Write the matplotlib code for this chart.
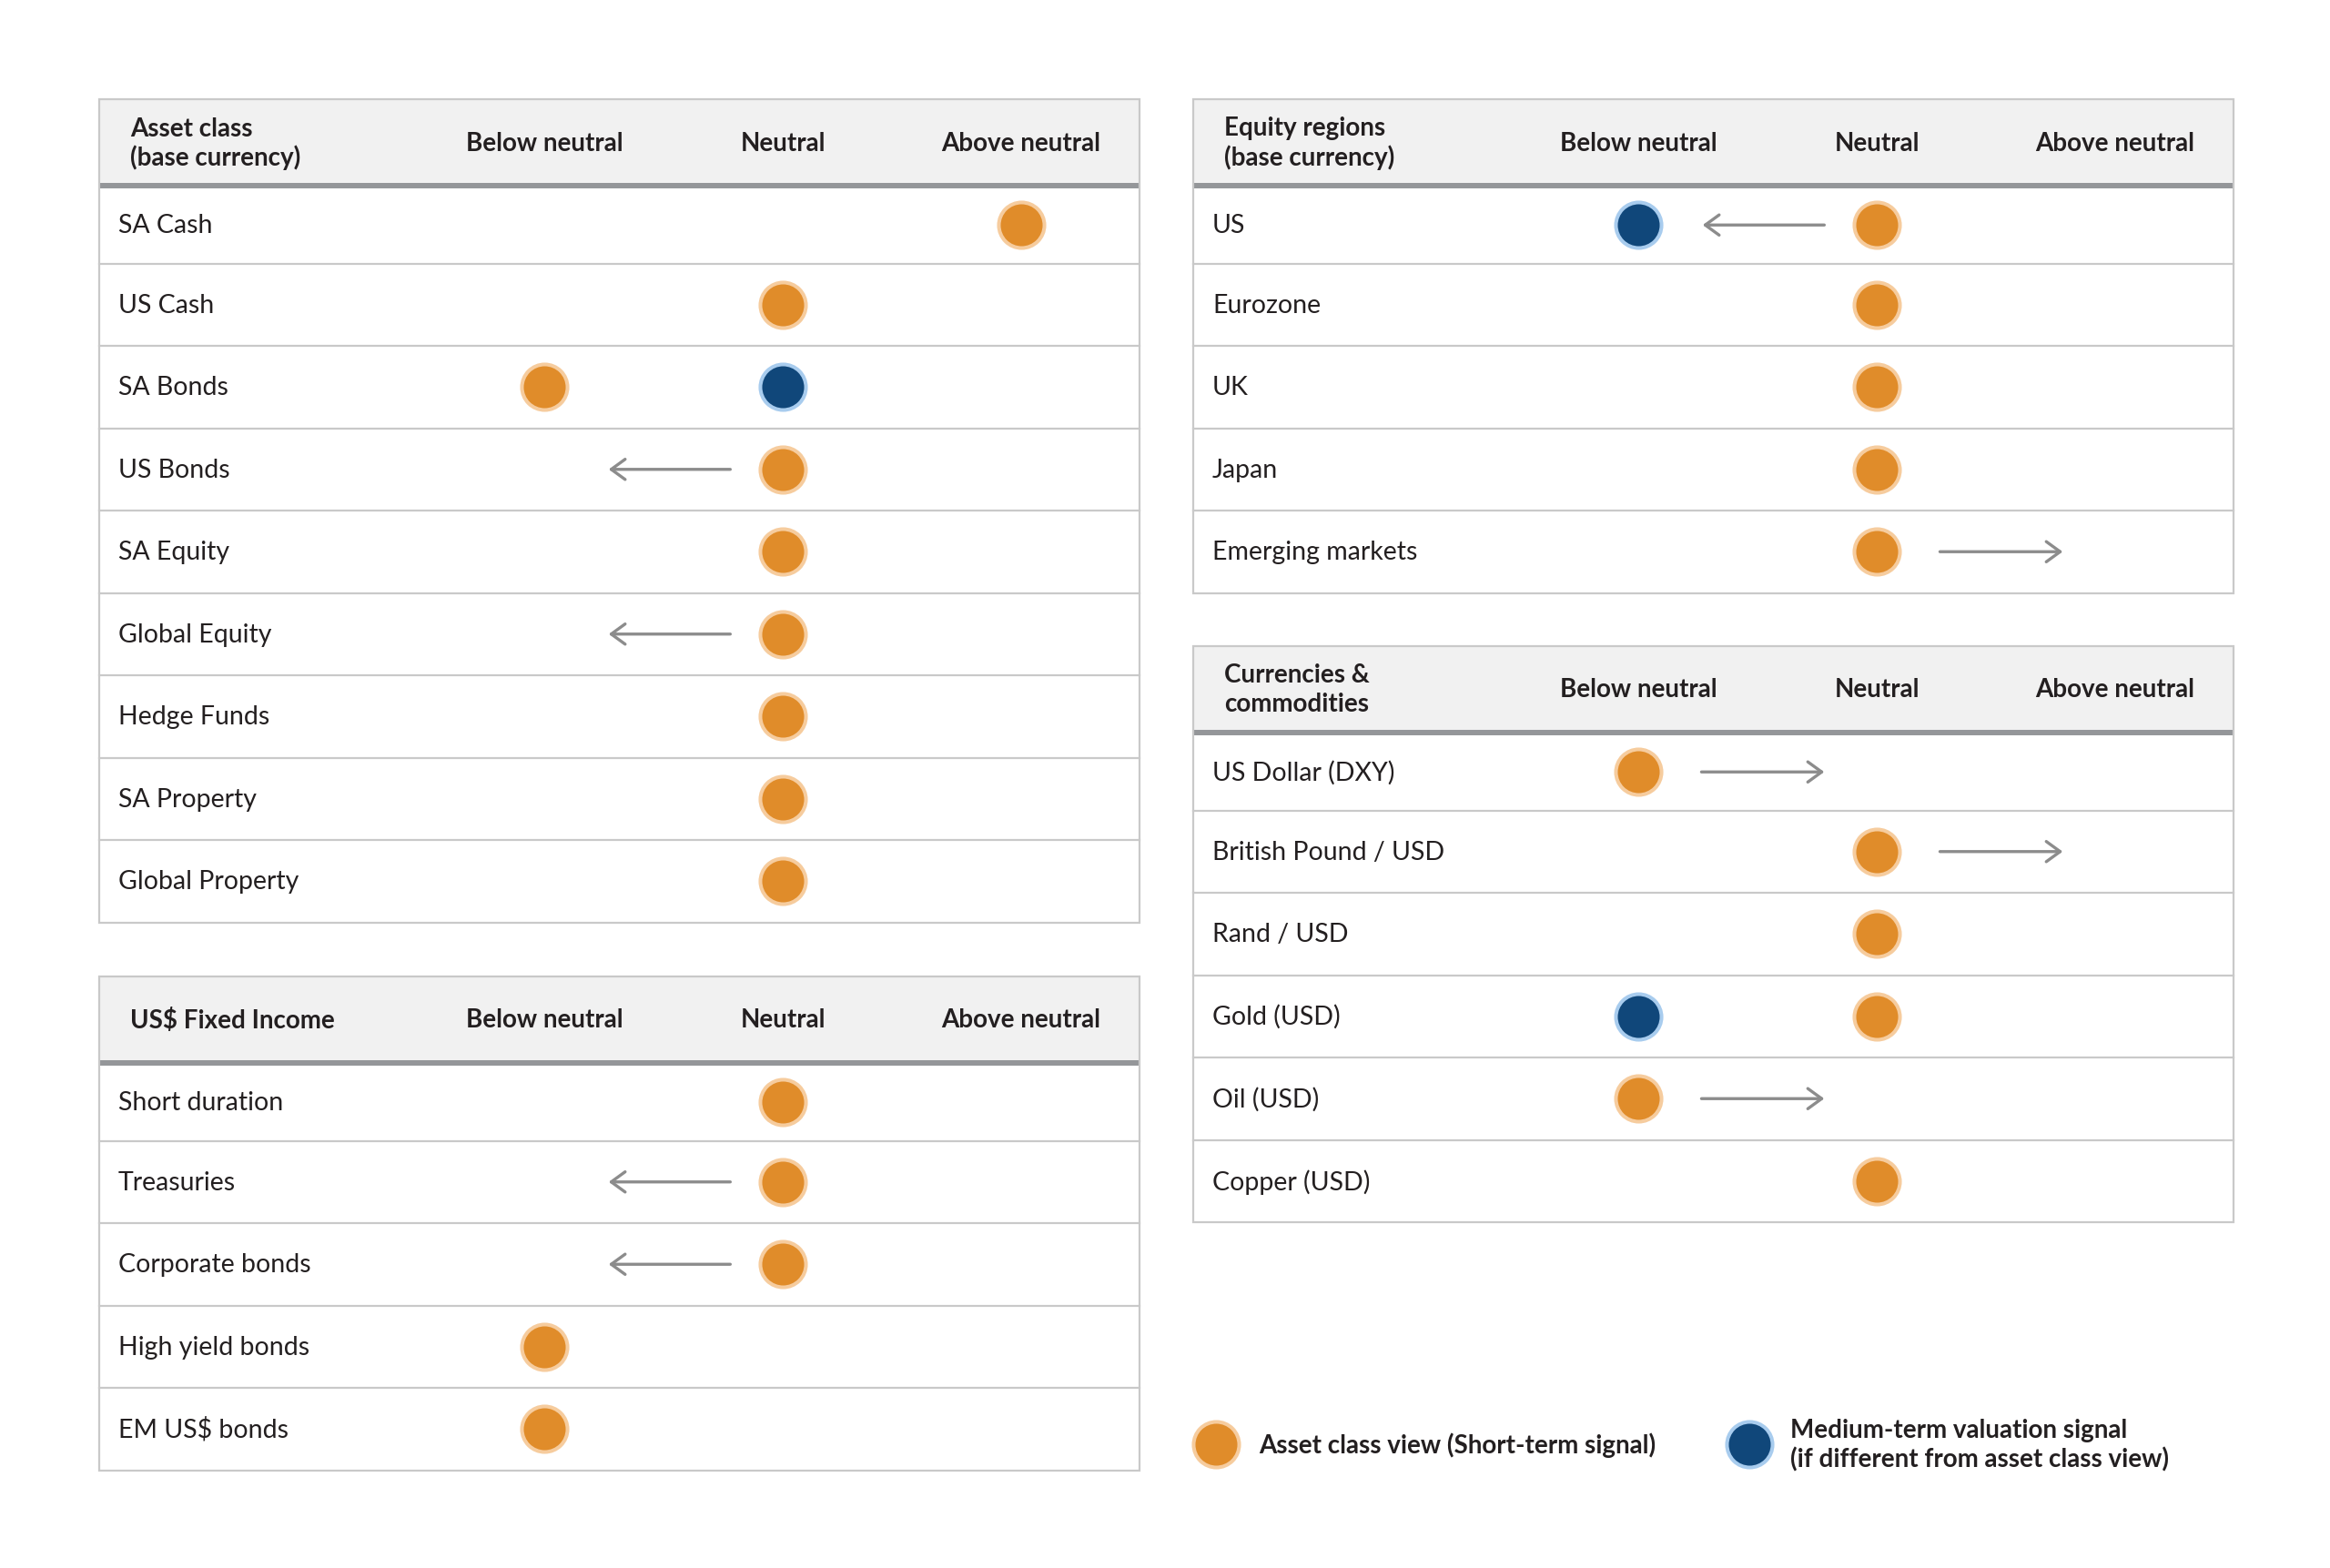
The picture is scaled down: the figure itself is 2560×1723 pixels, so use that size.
import matplotlib
matplotlib.use('Agg')
import matplotlib.pyplot as plt
from matplotlib.patches import Rectangle

# ---- data ----
view_titles = ['Below neutral', 'Neutral', 'Above neutral']

asset_labels = ['SA Cash', 'US Cash', 'SA Bonds', 'US Bonds', 'SA Equity',
                'Global Equity', 'Hedge Funds', 'SA Property', 'Global Property']
asset_short = [2, 1, 0, 1, 1, 1, 1, 1, 1]
asset_medium = [None, None, 1, None, None, None, None, None, None]
asset_arrow = [0, 0, 0, -1, 0, -1, 0, 0, 0]

fi_labels = ['Short duration', 'Treasuries', 'Corporate bonds',
             'High yield bonds', 'EM US$ bonds']
fi_short = [1, 1, 1, 0, 0]
fi_medium = [None, None, None, None, None]
fi_arrow = [0, -1, -1, 0, 0]

eq_labels = ['US', 'Eurozone', 'UK', 'Japan', 'Emerging markets']
eq_short = [1, 1, 1, 1, 1]
eq_medium = [0, None, None, None, None]
eq_arrow = [-1, 0, 0, 0, 1]

cc_labels = ['US Dollar (DXY)', 'British Pound / USD', 'Rand / USD',
             'Gold (USD)', 'Oil (USD)', 'Copper (USD)']
cc_short = [0, 1, 1, 1, 0, 1]
cc_medium = [None, None, None, 0, None, None]
cc_arrow = [1, 1, 0, 0, 1, 0]

# ---- style ----
ORANGE, ORANGE_RING = '#E08C2A', '#F6CC9E'
BLUE, BLUE_RING = '#10477A', '#A8CCEE'
HEAD_BG = '#F1F1F1'
BORDER = '#C9C9C9'
THICK = '#949699'
TXT = '#231F20'
ARROW = '#8C8C8C'
FONT = 'Lato'
FS_BOLD = 20
FS_ROW = 20.5

W, H = 2560, 1724
fig = plt.figure(figsize=(W / 100, H / 100), dpi=100)
ax = fig.add_axes([0, 0, 1, 1])
ax.set_xlim(0, W)
ax.set_ylim(H, 0)
ax.axis('off')

TABLE_W = 1143
HEAD_H = 95       # grey header band
ROWS_OFF = 90     # where the row grid starts (thick rule eats into row 1)
ROW_H = 90.5
COL_X = [489, 751, 1013]
SPACING = COL_X[1] - COL_X[0]
ARROW_SPAN = {-1: (0.22, 0.73), 1: (0.265, 0.78)}
DOT_S = 1300  # marker area in pt^2
DOT_LW = 2.9


def dot(x, y, face, ring):
    ax.scatter([x], [y], s=DOT_S, c=face, edgecolors=ring, linewidths=DOT_LW, zorder=5)


def draw_table(x0, y0, title_lines, labels, short, medium, arrows):
    n = len(labels)
    top_rows = y0 + ROWS_OFF
    bottom = top_rows + n * ROW_H
    # header
    ax.add_patch(Rectangle((x0, y0), TABLE_W, HEAD_H, facecolor=HEAD_BG, edgecolor='none', zorder=1))
    hy = y0 + HEAD_H / 2
    if len(title_lines) == 1:
        ax.text(x0 + 34, hy, title_lines[0], fontsize=FS_BOLD, fontweight='bold', color=TXT,
                va='center', ha='left', family=FONT)
    else:
        ax.text(x0 + 34, hy - 16, title_lines[0], fontsize=FS_BOLD, fontweight='bold', color=TXT,
                va='center', ha='left', family=FONT)
        ax.text(x0 + 34, hy + 16, title_lines[1], fontsize=FS_BOLD, fontweight='bold', color=TXT,
                va='center', ha='left', family=FONT)
    for cx, t in zip(COL_X, view_titles):
        ax.text(x0 + cx, hy, t, fontsize=FS_BOLD, fontweight='bold', color=TXT,
                va='center', ha='center', family=FONT)
    ax.plot([x0, x0 + TABLE_W], [y0 + HEAD_H, y0 + HEAD_H], color=THICK, lw=4.3,
            solid_capstyle='butt', zorder=3)
    # rows
    for i, lab in enumerate(labels):
        ry = top_rows + (i + 0.5) * ROW_H
        if i == 0:
            ry += 3
        if i > 0:
            ly = top_rows + i * ROW_H
            ax.plot([x0, x0 + TABLE_W], [ly, ly], color=BORDER, lw=1.6, zorder=2)
        ax.text(x0 + 21, ry, lab, fontsize=FS_ROW, color=TXT, va='center', ha='left', family=FONT)
        sx = x0 + COL_X[short[i]]
        dot(sx, ry, ORANGE, ORANGE_RING)
        if medium[i] is not None:
            dot(x0 + COL_X[medium[i]], ry, BLUE, BLUE_RING)
        if arrows[i] != 0:
            d = arrows[i]
            a0, a1 = ARROW_SPAN[d]
            ax.annotate('', xy=(sx + d * a1 * SPACING, ry), xytext=(sx + d * a0 * SPACING, ry),
                        arrowprops=dict(arrowstyle='->,head_length=1.1,head_width=0.8',
                                        color=ARROW, lw=2.4, shrinkA=0, shrinkB=0),
                        zorder=4)
    # outer border
    ax.add_patch(Rectangle((x0, y0), TABLE_W, bottom - y0, facecolor='none',
                           edgecolor=BORDER, lw=1.6, zorder=3))


draw_table(109, 110, ['Asset class', '(base currency)'],
           asset_labels, asset_short, asset_medium, asset_arrow)
draw_table(109, 1074, ['US$ Fixed Income'],
           fi_labels, fi_short, fi_medium, fi_arrow)
draw_table(1311, 110, ['Equity regions', '(base currency)'],
           eq_labels, eq_short, eq_medium, eq_arrow)
draw_table(1311, 711, ['Currencies &', 'commodities'],
           cc_labels, cc_short, cc_medium, cc_arrow)

# legend
dot(1336, 1588, ORANGE, ORANGE_RING)
ax.text(1383, 1588, 'Asset class view (Short-term signal)', fontsize=FS_BOLD, fontweight='bold',
        color=TXT, va='center', ha='left', family=FONT)
dot(1922, 1588, BLUE, BLUE_RING)
ax.text(1967, 1572, 'Medium-term valuation signal', fontsize=FS_BOLD, fontweight='bold',
        color=TXT, va='center', ha='left', family=FONT)
ax.text(1967, 1604, '(if different from asset class view)', fontsize=FS_BOLD, fontweight='bold',
        color=TXT, va='center', ha='left', family=FONT)

fig.savefig('out.png', dpi=100, facecolor='white')
